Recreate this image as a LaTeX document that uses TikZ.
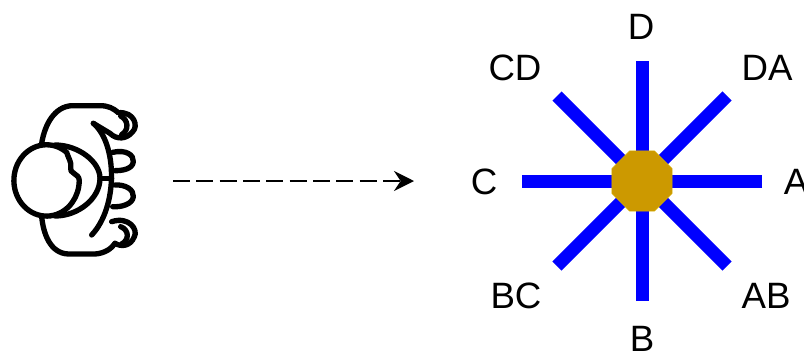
\documentclass[tikz,border=0pt]{standalone}
\usepackage{fontspec}
\setmainfont{Liberation Sans}
\usetikzlibrary{arrows.meta}
\usetikzlibrary{shapes.geometric}
\definecolor{hub}{HTML}{CC9900}
\tikzstyle{label} = [font=\fontsize{27.5}{30}\selectfont, inner sep=0pt, text centered]
\tikzstyle{spoke} = [draw=blue, line width=9.75pt]
\tikzstyle{hubnode} = [regular polygon, regular polygon sides=8, minimum size=48.8pt, inner sep=0pt, fill=hub, draw=hub!80!yellow, line width=0.4pt]
\tikzstyle{outline} = [draw=black, line width=4pt, line cap=round, line join=round]

\begin{document}
\begin{tikzpicture}[x=0.75pt, y=-0.75pt]
        \useasboundingbox (0,0) rectangle (804,354);

        % spokes
        \coordinate (endN) at (642,61);
        \coordinate (endS) at (642,301);
        \coordinate (endW) at (522,181);
        \coordinate (endE) at (762,181);
        \coordinate (endNW) at (557,96);
        \coordinate (endNE) at (727,96);
        \coordinate (endSW) at (557,266);
        \coordinate (endSE) at (727,266);
        \coordinate (hubC) at (642,181);
        \foreach \e in {endN,endS,endW,endE,endNW,endNE,endSW,endSE}
            \draw[spoke] (\e) -- (hubC);
        \node[hubnode](hub) at (hubC) {};

        \node[label](D) at (641,27) {D};
        \node[label](B) at (642,339) {B};
        \node[label](C) at (484,182) {C};
        \node[label](A) at (796,182) {A};
        \node[label](CD) at (515,68) {CD};
        \node[label](DA) at (767,68) {DA};
        \node[label](BC) at (516,296) {BC};
        \node[label](AB) at (766,296) {AB};

        % viewer seen from above
        \begin{scope}[x=0.25pt, y=-0.25pt, yshift=-67.5pt]
            \draw[outline] (125,160) .. controls (135,100) and (165,50) .. (215,47) -- (300,47) .. controls (325,47) and (340,55) .. (355,68);
            \draw[outline] (355,68) .. controls (405,65) and (415,110) .. (398,125) .. controls (380,148) and (350,150) .. (330,130) -- (280,100);
            \draw[outline] (362,78) .. controls (385,90) and (388,120) .. (365,134);
            \draw[outline] (280,100) .. controls (352,160) and (355,350) .. (275,435);
            \draw[outline] (338,187) .. controls (378,178) and (402,195) .. (400,215) .. controls (398,238) and (365,242) .. (345,242);
            \draw[outline] (345,285) .. controls (378,283) and (402,300) .. (400,320) .. controls (398,342) and (365,352) .. (338,350);
            \draw[outline] (335,395) .. controls (388,378) and (415,420) .. (403,440) .. controls (392,468) and (365,472) .. (345,460);
            \draw[outline] (362,410) .. controls (388,420) and (388,450) .. (365,462);
            \draw[outline] (125,380) .. controls (130,430) and (150,490) .. (205,492) -- (285,492) .. controls (315,490) and (335,475) .. (345,460);
            \draw[outline] (300,265) -- (335,265);
            \draw[outline] (200,187) arc[start angle=-52, end angle=-360, x radius=98, y radius=107] .. controls (238,250) and (205,250) .. (212,232) .. controls (215,215) and (205,205) .. (200,187);
            \draw[outline] (165,165) .. controls (235,165) and (300,215) .. (300,265) .. controls (300,325) and (235,378) .. (165,378);
        \end{scope}

        \coordinate (arrowA) at (173,181);
        \coordinate (arrowB) at (414,181);
        \draw[-{Stealth[length=15pt, width=15pt, inset=5pt]}, line width=1.5pt, dash pattern=on 12.7pt off 4.8pt] (arrowA) -- (arrowB);
\end{tikzpicture}
\end{document}
